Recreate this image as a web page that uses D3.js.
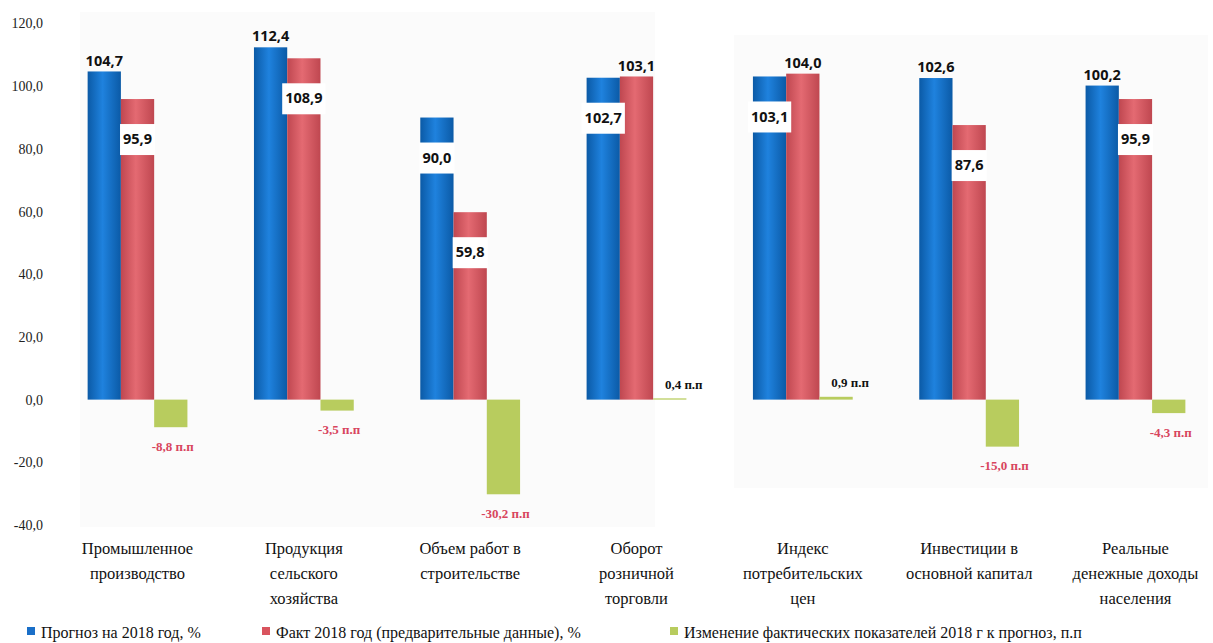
<!DOCTYPE html>
<html>
<head>
<meta charset="utf-8">
<script src="https://cdn.jsdelivr.net/npm/d3@7"></script>
<style>
  body { margin: 0; background: #fff; }
  svg { display: block; }
  .tick text { font-family: "Liberation Serif", serif; font-size: 14px; fill: #222; }
  .cat { font-family: "Liberation Serif", serif; font-size: 16.5px; fill: #111; }
  .val { font-family: "Noto Sans", sans-serif; font-size: 14.5px; font-weight: 700; fill: #111; }
  .diff { font-family: "Liberation Serif", serif; font-size: 13px; font-weight: 700; }
  .legend text { font-family: "Liberation Serif", serif; font-size: 16px; fill: #111; }
</style>
</head>
<body>
<svg id="chart" width="1213" height="643"></svg>
<script>
// categories (line breaks as in the original)
var categories = [
  ["Промышленное", "производство"],
  ["Продукция", "сельского", "хозяйства"],
  ["Объем работ в", "строительстве"],
  ["Оборот", "розничной", "торговли"],
  ["Индекс", "потребительских", "цен"],
  ["Инвестиции в", "основной капитал"],
  ["Реальные", "денежные доходы", "населения"]
];
var forecast = [104.7, 112.4, 90.0, 102.7, 103.1, 102.6, 100.2];
var fact = [95.9, 108.9, 59.8, 103.1, 104.0, 87.6, 95.9];
var change = [-8.8, -3.5, -30.2, 0.4, 0.9, -15.0, -4.3];
var seriesNames = [
  "Прогноз на 2018 год, %",
  "Факт 2018 год (предварительные данные), %",
  "Изменение фактических показателей 2018 г к прогноз, п.п"
];
// which value labels sit inside the bar (on a white box)
var forecastInside = [false, false, true, true, true, false, false];
var factInside = [true, true, true, false, false, true, true];
var yTicks = [-40, -20, 0, 20, 40, 60, 80, 100, 120];

var svg = d3.select("#chart");

var y = d3.scaleLinear().domain([-40, 120]).range([525, 23.5]);
var x = d3.scaleBand()
  .domain(d3.range(categories.length))
  .range([71, 1202])
  .paddingInner(0.4)
  .paddingOuter(0.1);
var xs = d3.scaleBand().domain([0, 1, 2]).range([0, x.bandwidth()]);

var comma = (v) => d3.format(".1f")(v).replace(".", ",").replace("−", "-");

// faint panel backgrounds (the original is two pasted pictures)
svg.append("rect").attr("x", 80).attr("y", 12).attr("width", 575).attr("height", 515).attr("fill", "#fbfbfb");
svg.append("rect").attr("x", 734).attr("y", 35).attr("width", 474).attr("height", 453).attr("fill", "#fbfbfb");

// cylinder-like gradients
var defs = svg.append("defs");
function grad(id, edge, mid) {
  var g = defs.append("linearGradient").attr("id", id).attr("x1", "0").attr("x2", "1");
  g.append("stop").attr("offset", "0%").attr("stop-color", edge);
  g.append("stop").attr("offset", "45%").attr("stop-color", mid);
  g.append("stop").attr("offset", "100%").attr("stop-color", edge);
}
grad("gBlue", "#0b5aa6", "#1f82de");
grad("gRed", "#bf4750", "#e46a72");

// y axis
var yAxis = d3.axisLeft(y).tickValues(yTicks).tickFormat(comma).tickSize(0).tickPadding(0);
svg.append("g")
  .attr("transform", "translate(43,0)")
  .call(yAxis)
  .call((g) => g.select(".domain").remove());

// bars
var groups = svg.append("g").selectAll("g")
  .data(categories)
  .join("g")
  .attr("transform", (d, i) => `translate(${x(i)},0)`);

var fills = ["url(#gBlue)", "url(#gRed)", "#b8cc5e"];
var series = [forecast, fact, change];

series.forEach(function (vals, s) {
  groups.append("rect")
    .attr("x", xs(s))
    .attr("width", xs.bandwidth())
    .attr("y", (d, i) => y(Math.max(0, vals[i])))
    .attr("height", (d, i) => Math.abs(y(vals[i]) - y(0)))
    .attr("fill", fills[s]);
});

// value labels for blue and red bars
function valueLabels(vals, inside, s) {
  groups.each(function (d, i) {
    var g = d3.select(this);
    var cx = xs(s) + xs.bandwidth() / 2;
    if (inside[i]) {
      var t = g.append("text").attr("class", "val")
        .attr("x", cx).attr("y", y(vals[i]) + 40)
        .attr("text-anchor", "middle").attr("dy", "0.35em")
        .text(comma(vals[i]));
      var bb = t.node().getBBox();
      g.insert("rect", function () { return t.node(); })
        .attr("x", bb.x - 3).attr("y", y(vals[i]) + 25)
        .attr("width", bb.width + 6).attr("height", 31)
        .attr("fill", "#fff");
    } else {
      g.append("text").attr("class", "val")
        .attr("x", cx).attr("y", y(vals[i]) - 11)
        .attr("text-anchor", "middle").attr("dy", "0.35em")
        .text(comma(vals[i]));
    }
  });
}
valueLabels(forecast, forecastInside, 0);
valueLabels(fact, factInside, 1);

// change labels
groups.append("text")
  .attr("class", "diff")
  .attr("x", (d, i) => xs(2) + xs.bandwidth() / 2 + (change[i] > 0 ? 14 : 2))
  .attr("y", (d, i) => change[i] > 0 ? y(change[i]) - 14 : y(change[i]) + 19)
  .attr("dy", "0.35em")
  .attr("text-anchor", "middle")
  .attr("fill", (d, i) => change[i] > 0 ? "#111" : "#d8455e")
  .text((d, i) => comma(change[i]) + " п.п");

// category labels
groups.append("text")
  .attr("class", "cat")
  .attr("text-anchor", "middle")
  .attr("x", x.bandwidth() / 2)
  .attr("y", 554)
  .selectAll("tspan")
  .data((d) => d)
  .join("tspan")
  .attr("x", x.bandwidth() / 2)
  .attr("dy", (d, i) => i == 0 ? 0 : 25)
  .text((d) => d);

// legend
var legendX = [27, 262, 670];
var legendColors = ["#1a6fc8", "#d9545e", "#b8cc5e"];
var legend = svg.append("g").attr("class", "legend");
seriesNames.forEach(function (name, i) {
  legend.append("rect")
    .attr("x", legendX[i]).attr("y", 627)
    .attr("width", 8).attr("height", 8)
    .attr("fill", legendColors[i]);
  legend.append("text")
    .attr("x", legendX[i] + 14).attr("y", 632)
    .attr("dy", "0.35em")
    .text(name);
});
</script>
</body>
</html>
